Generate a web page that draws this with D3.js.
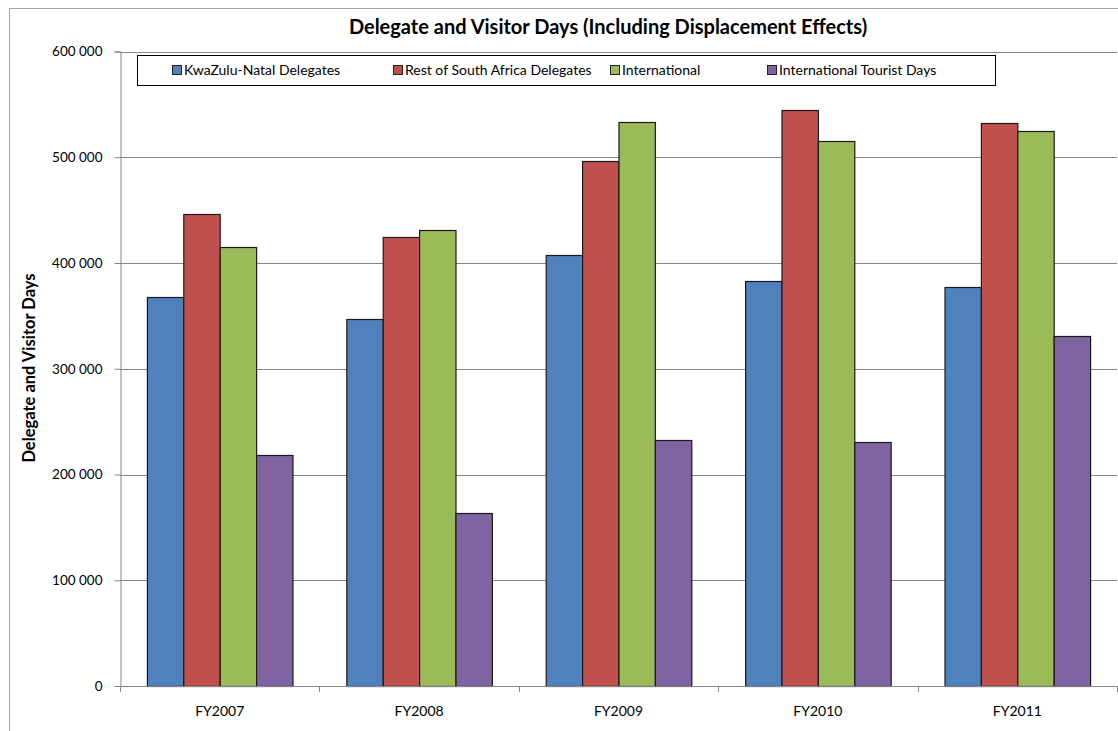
<!DOCTYPE html>
<html>
<head>
<meta charset="utf-8">
<script src="https://cdn.jsdelivr.net/npm/d3@7"></script>
<style>
  html, body { margin: 0; padding: 0; background: #fff; }
  svg { display: block; font-family: Lato, "Open Sans", sans-serif; }
</style>
</head>
<body>
<svg id="chart" width="1118" height="731"></svg>
<script>
// --- data ---
const categories = ["FY2007", "FY2008", "FY2009", "FY2010", "FY2011"];
const seriesNames = [
    "KwaZulu-Natal Delegates",
    "Rest of South Africa Delegates",
    "International",
    "International Tourist Days"
];
const kznDelegates = [368000, 347000, 408000, 383000, 377000];
const restOfSADelegates = [446000, 425000, 496000, 545000, 532000];
const international = [415000, 431000, 533000, 515000, 525000];
const intlTouristDays = [218000, 164000, 233000, 231000, 331000];
const yTicks = [0, 100000, 200000, 300000, 400000, 500000, 600000];
const colors = ["#4F81BD", "#C0504D", "#9BBB59", "#8064A2"];

const seriesValues = [kznDelegates, restOfSADelegates, international, intlTouristDays];

const svg = d3.select("#chart");

// chart area border (cropped on the right and bottom)
svg.append("rect")
    .attr("x", 9.5).attr("y", 8.5)
    .attr("width", 1200).attr("height", 800)
    .attr("fill", "#fff")
    .attr("stroke", "#a6a6a6");

const plot = { left: 120, right: 1117, top: 51.5, bottom: 686 };

const x0 = d3.scaleBand()
    .domain(categories)
    .range([plot.left, plot.right])
    .paddingInner(0.27)
    .paddingOuter(0.135);

const x1 = d3.scaleBand()
    .domain(d3.range(seriesNames.length))
    .range([0, x0.bandwidth()]);

const y = d3.scaleLinear()
    .domain([0, 600000])
    .range([plot.bottom, plot.top]);

const fmt = v => d3.format(",")(v).replace(/,/g, " ");

// gridlines
svg.append("g")
    .selectAll("line")
    .data(yTicks.filter(d => d > 0))
    .enter().append("line")
    .attr("x1", plot.left).attr("x2", plot.right)
    .attr("y1", d => Math.round(y(d)) + 0.5)
    .attr("y2", d => Math.round(y(d)) + 0.5)
    .attr("stroke", "#868686")
    .attr("stroke-width", 1);

// y axis
const yAxis = svg.append("g")
    .attr("transform", `translate(${plot.left + 0.5},0)`)
    .call(d3.axisLeft(y).tickValues(yTicks).tickFormat(fmt).tickSize(6).tickPadding(12));
yAxis.select(".domain").attr("stroke", "#868686");
yAxis.selectAll(".tick line").attr("stroke", "#868686");
yAxis.selectAll(".tick text")
    .attr("fill", "#000")
    .style("font-size", "13.5px")
    .style("font-family", "Lato, sans-serif");

// bars
const groups = svg.append("g")
    .selectAll("g")
    .data(categories)
    .enter().append("g")
    .attr("transform", d => `translate(${x0(d)},0)`);

groups.selectAll("rect")
    .data((d, i) => seriesValues.map((vals, s) => ({ s, v: vals[i] })))
    .enter().append("rect")
    .attr("x", d => x1(d.s) + 0.5)
    .attr("y", d => Math.round(y(d.v)) + 0.5)
    .attr("width", x1.bandwidth())
    .attr("height", d => y(0) - Math.round(y(d.v)))
    .attr("fill", d => colors[d.s])
    .attr("stroke", "#1a1a1a")
    .attr("stroke-width", 1.2);

// x axis
const xAxis = svg.append("g")
    .attr("transform", `translate(0,${plot.bottom + 0.5})`)
    .call(d3.axisBottom(x0).tickSize(0).tickPadding(20));
xAxis.select(".domain").attr("stroke", "#868686").attr("d", `M${plot.left},0H${plot.right}`);
xAxis.selectAll(".tick text")
    .attr("fill", "#000")
    .style("font-size", "14px")
    .style("font-family", "Lato, sans-serif");

// category boundary ticks
const step = x0.step();
svg.append("g")
    .selectAll("line")
    .data(d3.range(categories.length + 1))
    .enter().append("line")
    .attr("x1", i => Math.round(plot.left + i * step) + 0.5)
    .attr("x2", i => Math.round(plot.left + i * step) + 0.5)
    .attr("y1", plot.bottom)
    .attr("y2", plot.bottom + 6)
    .attr("stroke", "#868686");

// title
svg.append("text")
    .attr("x", 608).attr("y", 34)
    .attr("text-anchor", "middle")
    .style("font-size", "20px")
    .style("font-weight", "700")
    .text("Delegate and Visitor Days (Including Displacement Effects)");

// y axis title
svg.append("text")
    .attr("transform", "translate(35,368) rotate(-90)")
    .attr("text-anchor", "middle")
    .style("font-size", "16.5px")
    .style("font-weight", "700")
    .text("Delegate and Visitor Days");

// legend
const legend = svg.append("g");
legend.append("rect")
    .attr("x", 137.5).attr("y", 55.5)
    .attr("width", 858).attr("height", 30)
    .attr("fill", "#fff")
    .attr("stroke", "#000");

const legendX = [172, 393, 610, 767];
const item = legend.selectAll("g.item")
    .data(seriesNames)
    .enter().append("g")
    .attr("class", "item")
    .attr("transform", (d, i) => `translate(${legendX[i]},70)`);

item.append("rect")
    .attr("x", 0.5).attr("y", -4.5)
    .attr("width", 9).attr("height", 9)
    .attr("fill", (d, i) => colors[i])
    .attr("stroke", "#222");

item.append("text")
    .attr("x", 12).attr("y", 5)
    .style("font-size", "14px")
    .text(d => d);
</script>
</body>
</html>
